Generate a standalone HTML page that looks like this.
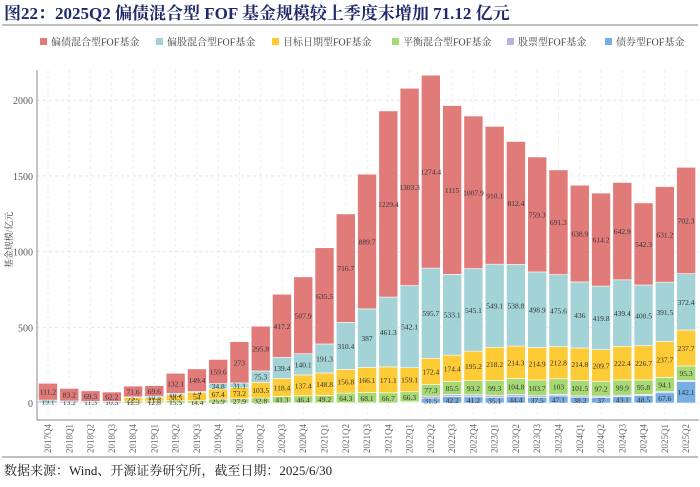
<!DOCTYPE html>
<html><head><meta charset="utf-8"><style>
body{margin:0;background:#fff;width:700px;height:482px;overflow:hidden;font-family:"Liberation Serif","Noto Serif CJK SC",serif;}
</style></head><body>
<svg id="c" width="700" height="482" xmlns="http://www.w3.org/2000/svg">
<text x="4" y="19" font-size="17" font-weight="bold" fill="#1f2a6b" font-family="Liberation Serif,Noto Serif CJK SC,serif">图22：2025Q2 偏债混合型 FOF 基金规模较上季度末增加 71.12 亿元</text>
<line x1="2" y1="25" x2="698" y2="25" stroke="#999" stroke-width="1.2"/>
<line x1="2" y1="457" x2="698" y2="457" stroke="#999" stroke-width="1.2"/>
<text x="4" y="475" font-size="13" fill="#222">数据来源：Wind、开源证券研究所，截至日期：2025/6/30</text>
<text transform="translate(12,240) rotate(-90)" font-size="9" fill="#444" text-anchor="middle">基金规模/亿元</text>
<g id="grid"></g><g id="bars"></g><g id="axes"></g><g id="legend"></g>
</svg>
<script>
const categories=["2017Q4","2018Q1","2018Q2","2018Q3","2018Q4","2019Q1","2019Q2","2019Q3","2019Q4","2020Q1","2020Q2","2020Q3","2020Q4","2021Q1","2021Q2","2021Q3","2021Q4","2022Q1","2022Q2","2022Q3","2022Q4","2023Q1","2023Q2","2023Q3","2023Q4","2024Q1","2024Q2","2024Q3","2024Q4","2025Q1","2025Q2"];
const bondFund=[0,0,0,0,0,0,0,0,0,0,0,1.9,1.4,0.7,0.8,0.6,0.6,5,31.5,42.2,41.2,35.1,44.4,37.5,47.1,38.3,37,43.1,48.5,67.6,142.1];
const stockFund=[0,0,0,0,0,0,0,0,0,0,0,0,0,0,0,0,0,3,14.1,14.4,12.9,15.4,12.6,10.6,9.8,9,8.7,8.9,7.9,7.3,7];
const balancedMix=[0,0,0,0,12.5,12.8,15.5,14.4,25.9,27.9,32.8,41.3,46.4,49.2,64.3,68.1,66.7,66.3,77.3,85.5,93.2,99.3,104.8,103.7,103,101.5,97.2,99.9,95.8,94.1,95.3];
const targetDate=[0,0,0,0,22.5,21.8,38.5,54,67.4,73.2,103.5,118.4,137.4,148.8,156.8,166.1,171.1,159.1,172.4,174.4,195.2,218.2,214.3,214.9,212.8,214.8,209.7,222.4,226.7,237.7,237.7];
const equityMix=[19.1,13.2,11.3,10.5,5,10.5,10.2,7.4,34.8,31.1,75.3,139.4,140.1,191.3,310.4,387,461.3,542.1,595.7,533.1,545.1,549.1,538.8,498.9,475.6,436,419.8,439.4,400.5,391.5,372.4];
const bondMix=[111.2,83.2,69.3,62.2,71.6,69.6,132.1,149.4,159.6,273,295.8,417.2,507.9,635.5,716.7,889.7,1229.4,1303.3,1274.4,1115,1007.9,910.1,812.4,759.3,691.3,638.9,614.2,642.9,542.3,631.2,702.3];
const yTicks=[0,500,1000,1500,2000];
const seriesNames=["偏债混合型FOF基金","偏股混合型FOF基金","目标日期型FOF基金","平衡混合型FOF基金","股票型FOF基金","债券型FOF基金"];
const NS="http://www.w3.org/2000/svg";
const series=[bondFund,stockFund,balancedMix,targetDate,equityMix,bondMix];
const colors=["#76aee4","#b7b3e2","#a6d873","#fdcb35","#a3d2d7","#e07b7a"];
const x0=37,step=21.27,bw=19,y0=403,k=75.7/500;
const xC=i=>x0+11+i*step;
const yS=v=>y0-v*k;
function mk(t,a,p){const e=document.createElementNS(NS,t);for(const n in a)e.setAttribute(n,a[n]);(p||document.getElementById('c')).appendChild(e);return e;}
const grid=document.getElementById('grid'),bars=document.getElementById('bars'),axes=document.getElementById('axes'),leg=document.getElementById('legend');
yTicks.forEach(t=>{
 const l=mk('line',{x1:x0,x2:699,y1:yS(t),y2:yS(t),stroke:'#e3e3e3','stroke-dasharray':'3,3'},grid);
 
 
 const tx=mk('text',{x:x0-4,y:yS(t)+4,'font-size':10,'text-anchor':'end',fill:'#555'},axes);
 tx.textContent=t;
 
 
});
categories.forEach((c,i)=>{
 const gl=mk('line',{x1:xC(i),x2:xC(i),y1:70,y2:420,stroke:'#ececec','stroke-dasharray':'3,3'},grid);
 
 
 let acc=0;
 series.forEach((s,j)=>{
  const v=s[i];if(v<=0)return;
  const r=mk('rect',{x:xC(i)-bw/2,y:yS(acc+v),width:bw,height:v*k,fill:colors[j],stroke:'#fff','stroke-width':0.6},bars);
  
  
  if(j>=2||(j==0&&v>20)){
   const t=mk('text',{x:xC(i),y:yS(acc+v/2)+3,'font-size':7.5,'text-anchor':'middle',fill:'#333'},bars);
   t.textContent=v;
   
   
  }
  acc+=v;
 });
 const tx=mk('text',{transform:`translate(${xC(i)+3},424) rotate(-90)`,'font-size':9,'text-anchor':'end',fill:'#666'},axes);
 tx.textContent=c;
 
 
});
const ax=mk('path',{d:`M${x0},70V420H699`,stroke:'#888',fill:'none'},axes);


const legX=[40,156,272,392,507,605],legOrder=[5,4,3,2,1,0];
seriesNames.forEach((n,i)=>{
 const g=mk('g',{},leg);
 
 
 mk('rect',{x:legX[i],y:38,width:7,height:7,fill:colors[legOrder[i]]},g);
 const t=mk('text',{x:legX[i]+11,y:45.5,'font-size':10,fill:'#444'},g);
 t.textContent=n;
});
</script>
</body></html>
